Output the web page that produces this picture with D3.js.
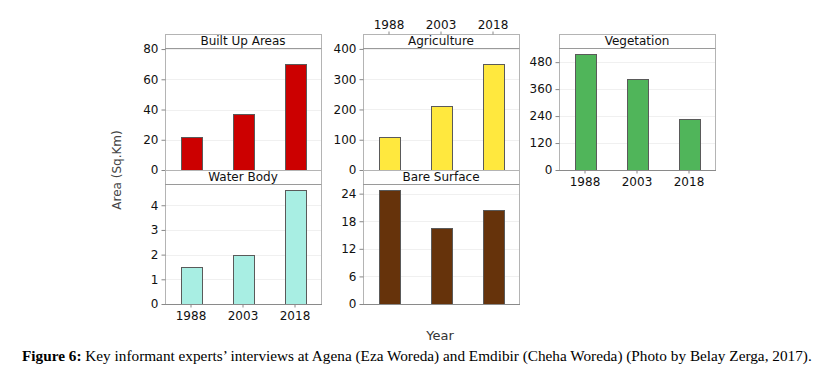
<!DOCTYPE html>
<html><head><meta charset="utf-8">
<script src="https://cdn.jsdelivr.net/npm/d3@7"></script>
<style>
html,body{margin:0;padding:0;background:#fff;}
svg{display:block;}
</style></head>
<body><svg id="chart" width="834" height="380"></svg>
<script>
// ---- data ----
const years = ["1988", "2003", "2018"];
const panelTitles = ["Built Up Areas", "Agriculture", "Vegetation", "Water Body", "Bare Surface"];
const builtUp = [22, 37, 70];
const agriculture = [108, 210, 350];
const vegetation = [517, 403, 226];
const waterBody = [1.5, 2.0, 4.6];
const bareSurface = [24.7, 16.5, 20.4];
const ticksBuiltUp = [0, 20, 40, 60, 80];
const ticksAgriculture = [0, 100, 200, 300, 400];
const ticksVegetation = [0, 120, 240, 360, 480];
const ticksWaterBody = [0, 1, 2, 3, 4];
const ticksBareSurface = [0, 6, 12, 18, 24];
const axisMax = [80.7, 403, 543, 4.86, 26.1];
const barColors = ["#cc0000", "#ffe83e", "#50b55a", "#a8eee3", "#66330b"];
const yLabel = "Area (Sq.Km)";
const xLabel = "Year";
const captionBold = "Figure 6:";
const captionText = " Key informant experts’ interviews at Agena (Eza Woreda) and Emdibir (Cheha Woreda) (Photo by Belay Zerga, 2017).";

const seriesList = [builtUp, agriculture, vegetation, waterBody, bareSurface];
const tickList = [ticksBuiltUp, ticksAgriculture, ticksVegetation, ticksWaterBody, ticksBareSurface];
const layout = [
  {col:0,row:0,top:false,bottom:false},
  {col:1,row:0,top:true,bottom:false},
  {col:2,row:0,top:false,bottom:true},
  {col:0,row:1,top:false,bottom:true},
  {col:1,row:1,top:false,bottom:false}
];

const SANS = "'DejaVu Sans', sans-serif";
const svg = d3.select("#chart");
const colX = [165, 363, 559];
const colW = 156;
const rowTop = [34, 170];
const rowBot = [170, 304];
const stripH = 14;
const frameColor = "#b4b4b4";

function styleTicks(sel) {
  sel.select(".domain").remove();
  sel.selectAll(".tick line").attr("stroke", "#888");
  sel.selectAll(".tick text").style("font-size", "12px").style("font-family", SANS).attr("fill", "#111");
}

layout.forEach((L, i) => {
  const x0 = colX[L.col], x1 = x0 + colW;
  const top = rowTop[L.row], bot = rowBot[L.row];
  const g = svg.append("g");
  const x = d3.scaleBand().domain(years).range([x0, x1]).paddingInner(0.6).paddingOuter(0.3);
  const y = d3.scaleLinear().domain([0, axisMax[i]]).range([bot, top + stripH]);

  g.append("rect").attr("x", x0 + 0.5).attr("y", top + 0.5).attr("width", colW).attr("height", bot - top)
    .attr("fill", "#fff").attr("stroke", frameColor);
  g.selectAll(".grid").data(tickList[i].filter(t => t > 0)).join("line")
    .attr("x1", x0 + 1).attr("x2", x1).attr("y1", d => Math.round(y(d)) + 0.5).attr("y2", d => Math.round(y(d)) + 0.5)
    .attr("stroke", "#f0f0f0");
  g.append("line").attr("x1", x0).attr("x2", x1 + 0.5).attr("y1", top + stripH + 0.5).attr("y2", top + stripH + 0.5)
    .attr("stroke", "#9a9a9a");
  g.append("text").attr("x", (x0 + x1) / 2).attr("y", top + stripH - 3)
    .attr("text-anchor", "middle").style("font-size", "12px").style("font-family", SANS)
    .attr("fill", "#111").text(panelTitles[i]);

  g.selectAll(".bar").data(seriesList[i]).join("rect")
    .attr("x", (d, j) => Math.round(x(years[j])) + 0.5)
    .attr("width", Math.round(x.bandwidth()))
    .attr("y", d => Math.round(y(d)) + 0.5)
    .attr("height", d => bot - Math.round(y(d)))
    .attr("fill", barColors[i]).attr("stroke", "#5a5a5a").attr("stroke-width", 1);

  const ya = g.append("g").attr("transform", `translate(${x0 + 0.5},0)`)
    .call(d3.axisLeft(y).tickValues(tickList[i]).tickFormat(d3.format("d")).tickSize(4).tickPadding(3));
  styleTicks(ya);

  g.append("line").attr("x1", x0).attr("x2", x1 + 1).attr("y1", bot + 0.5).attr("y2", bot + 0.5).attr("stroke", "#8a8a8a");
  if (L.bottom) {
    const xa = g.append("g").attr("transform", `translate(0,${bot + 0.5})`)
      .call(d3.axisBottom(x).tickSize(3).tickPadding(4));
    styleTicks(xa);
  }
  if (L.top) {
    const xa = g.append("g").attr("transform", `translate(0,${top + 0.5})`)
      .call(d3.axisTop(x).tickSize(3).tickPadding(3));
    styleTicks(xa);
  }
});

svg.append("text").attr("transform", "translate(121,170) rotate(-90)")
  .attr("text-anchor", "middle").style("font-size", "12px").style("font-family", SANS)
  .attr("fill", "#444").text(yLabel);
svg.append("text").attr("x", 440).attr("y", 340).attr("text-anchor", "middle")
  .style("font-size", "13px").style("font-family", SANS).attr("fill", "#333").text(xLabel);

// caption: fit to the reference's width
const cap = svg.append("text").attr("x", 22).attr("y", 361)
  .style("font-family", "'Liberation Serif','Times New Roman',serif").style("font-size", "14px").attr("fill", "#000");
cap.append("tspan").style("font-weight", "bold").text(captionBold);
cap.append("tspan").text(captionText);
const w = cap.node().getBBox().width;
const targetW = 790;
cap.style("font-size", (14 * targetW / w) + "px");
</script></body></html>
